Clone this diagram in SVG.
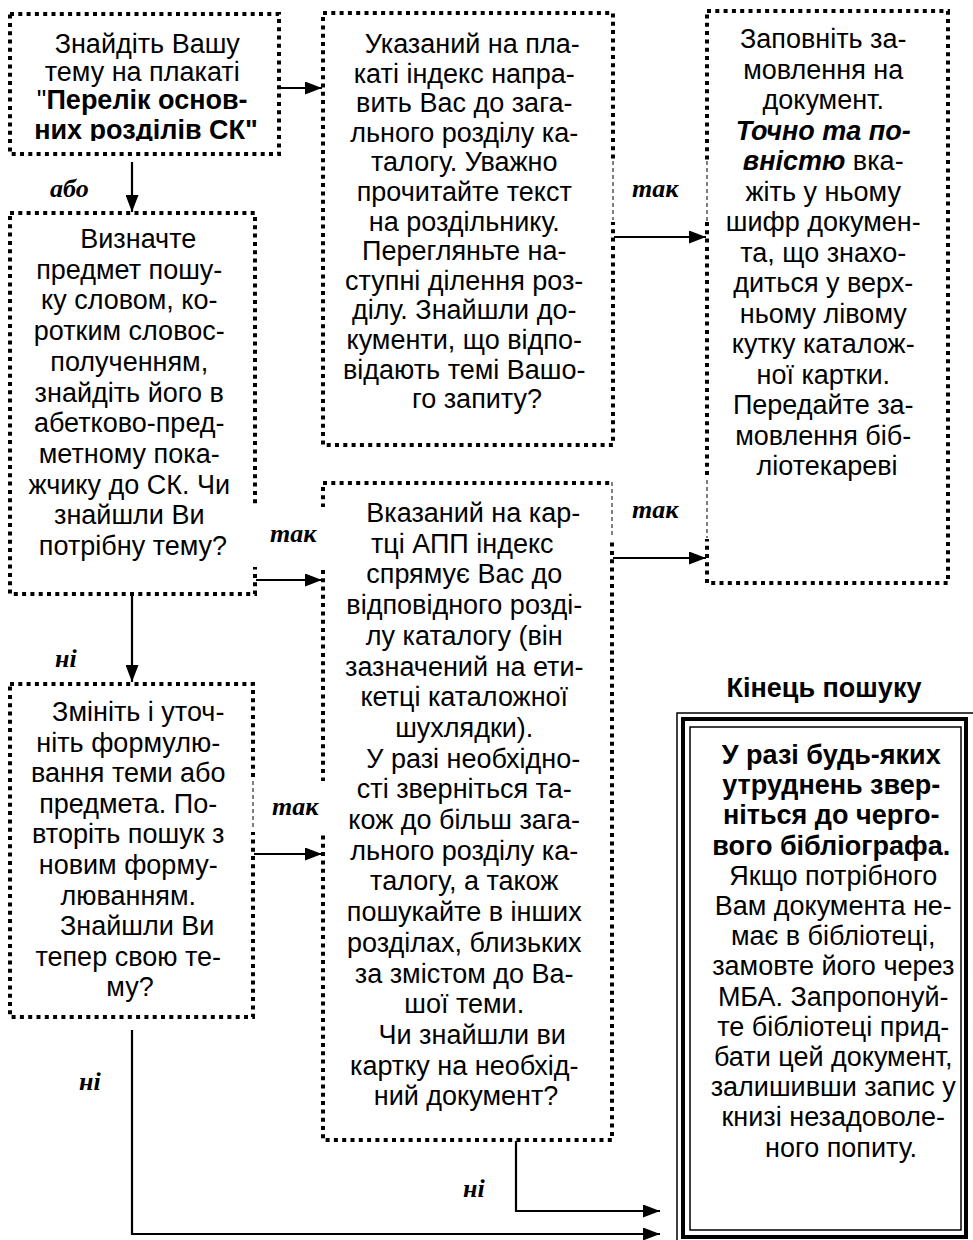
<svg xmlns="http://www.w3.org/2000/svg" width="973" height="1240" viewBox="0 0 973 1240">
<style>
.box{fill:none;stroke:#000;stroke-width:4;stroke-dasharray:4 4.3}
.t{font-family:"Liberation Sans",Arial,sans-serif;font-size:27px;fill:#000;text-anchor:middle}
.b{font-weight:bold}
.bi{font-weight:bold;font-style:italic}
.lbl{font-family:"Liberation Serif","Times New Roman",serif;font-weight:bold;font-style:italic;font-size:26px;fill:#000}
.ln{stroke:#000;stroke-width:2.2;fill:none}
.thin{stroke:#000;stroke-width:1;stroke-dasharray:4 3;fill:none}
.cover{fill:#fff;stroke:none}
</style>
<defs>
<marker id="ah" markerUnits="userSpaceOnUse" markerWidth="17" markerHeight="13" refX="17" refY="6.5" orient="auto">
<path d="M0,0 L17,6.5 L0,13 z" fill="#000"/>
</marker>
<clipPath id="c1"><rect x="10" y="14" width="270" height="127"/></clipPath>
</defs>
<rect width="973" height="1240" fill="#fff"/>

<g id="box1">
<rect class="box" x="10" y="14" width="269" height="140"/>
<text class="t" font-size="28.5" clip-path="url(#c1)">
<tspan x="151" y="53">Знайдіть Вашу</tspan>
<tspan x="146" y="81">тему на плакаті</tspan>
<tspan x="146" y="109">"<tspan class="b">Перелік основ-</tspan></tspan>
<tspan x="146" y="139" class="b">них розділів СК"</tspan>
</text>
</g>

<g id="box2">
<rect class="box" x="323" y="13" width="290" height="432"/>
<text class="t">
<tspan x="476" y="53">Указаний на пла-</tspan>
<tspan x="468" y="82.6">каті індекс напра-</tspan>
<tspan x="468" y="112.2">вить Вас до зага-</tspan>
<tspan x="468" y="141.8">льного розділу ка-</tspan>
<tspan x="468" y="171.4">талогу. Уважно</tspan>
<tspan x="468" y="201">прочитайте текст</tspan>
<tspan x="468" y="230.6">на роздільнику.</tspan>
<tspan x="468" y="260.2">Перегляньте на-</tspan>
<tspan x="468" y="289.8">ступні ділення роз-</tspan>
<tspan x="468" y="319.4">ділу. Знайшли до-</tspan>
<tspan x="468" y="349">кументи, що відпо-</tspan>
<tspan x="468" y="378.6">відають темі Вашо-</tspan>
<tspan x="477" y="408.2">го запиту?</tspan>
</text>
</g>

<g id="box3">
<rect class="box" x="10" y="213" width="245" height="381"/>
<text class="t">
<tspan x="142" y="248">Визначте</tspan>
<tspan x="133" y="278.7">предмет пошу-</tspan>
<tspan x="133" y="309.4">ку словом, ко-</tspan>
<tspan x="133" y="340.1">ротким словос-</tspan>
<tspan x="133" y="370.8">полученням,</tspan>
<tspan x="133" y="401.5">знайдіть його в</tspan>
<tspan x="133" y="432.2">абетково-пред-</tspan>
<tspan x="133" y="462.9">метному пока-</tspan>
<tspan x="133" y="493.6">жчику до СК. Чи</tspan>
<tspan x="133" y="524.3">знайшли Ви</tspan>
<tspan x="133" y="555">потрібну тему?</tspan>
</text>
</g>

<g id="box4">
<rect class="box" x="323" y="483" width="289" height="657"/>
<text class="t" font-size="26.6">
<tspan x="477" y="522">Вказаний на кар-</tspan>
<tspan x="466" y="552.7">тці АПП індекс</tspan>
<tspan x="468" y="583.4">спрямує Вас до</tspan>
<tspan x="468" y="614.1">відповідного розді-</tspan>
<tspan x="468" y="644.8">лу каталогу (він</tspan>
<tspan x="468" y="675.5">зазначений на ети-</tspan>
<tspan x="468" y="706.2">кетці каталожної</tspan>
<tspan x="468" y="736.9">шухлядки).</tspan>
<tspan x="477" y="767.6">У разі необхідно-</tspan>
<tspan x="468" y="798.3">сті зверніться та-</tspan>
<tspan x="468" y="829">кож до більш зага-</tspan>
<tspan x="468" y="859.7">льного розділу ка-</tspan>
<tspan x="468" y="890.4">талогу, а також</tspan>
<tspan x="468" y="921.1">пошукайте в інших</tspan>
<tspan x="468" y="951.8">розділах, близьких</tspan>
<tspan x="468" y="982.5">за змістом до Ва-</tspan>
<tspan x="468" y="1013.2">шої теми.</tspan>
<tspan x="476" y="1043.9">Чи знайшли ви</tspan>
<tspan x="468" y="1074.6">картку на необхід-</tspan>
<tspan x="466" y="1105.3">ний документ?</tspan>
</text>
</g>

<g id="box5">
<rect class="box" x="707" y="11" width="241" height="572"/>
<text class="t" font-size="27.3">
<tspan x="827" y="48">Заповніть за-</tspan>
<tspan x="827" y="78.5">мовлення на</tspan>
<tspan x="827" y="109">документ.</tspan>
<tspan x="827" y="139.5" class="bi">Точно та по-</tspan>
<tspan x="827" y="170"><tspan class="bi">вністю</tspan> вка-</tspan>
<tspan x="827" y="200.5">жіть у ньому</tspan>
<tspan x="827" y="231">шифр докумен-</tspan>
<tspan x="827" y="261.5">та, що знахо-</tspan>
<tspan x="827" y="292">диться у верх-</tspan>
<tspan x="827" y="322.5">ньому лівому</tspan>
<tspan x="827" y="353">кутку каталож-</tspan>
<tspan x="827" y="383.5">ної картки.</tspan>
<tspan x="827" y="414">Передайте за-</tspan>
<tspan x="827" y="444.5">мовлення біб-</tspan>
<tspan x="827" y="475">ліотекареві</tspan>
</text>
</g>

<g id="box6">
<rect class="box" x="10" y="684" width="243" height="333"/>
<text class="t" font-size="26.5">
<tspan x="142" y="721">Змініть і уточ-</tspan>
<tspan x="132" y="751.6">ніть формулю-</tspan>
<tspan x="132" y="782.2">вання теми або</tspan>
<tspan x="132" y="812.8">предмета. По-</tspan>
<tspan x="132" y="843.4">вторіть пошук з</tspan>
<tspan x="132" y="874">новим форму-</tspan>
<tspan x="132" y="904.6">люванням.</tspan>
<tspan x="141" y="935.2">Знайшли Ви</tspan>
<tspan x="132" y="965.8">тепер свою те-</tspan>
<tspan x="130" y="996.4">му?</tspan>
</text>
</g>

<g id="end">
<text class="t b" x="824" y="697" font-size="28.5">Кінець пошуку</text>
<rect x="677" y="713" width="300" height="532" fill="none" stroke="#000" stroke-width="1.5"/>
<rect x="683" y="719" width="283" height="518" fill="none" stroke="#000" stroke-width="4"/>
<rect x="690" y="727" width="271" height="503" fill="none" stroke="#000" stroke-width="1.5"/>
<text class="t" font-size="25.5">
<tspan x="835" y="764" class="b" font-size="27">У разі будь-яких</tspan>
<tspan x="835" y="794.2" class="b" font-size="27">утруднень звер-</tspan>
<tspan x="835" y="824.4" class="b" font-size="27">ніться до черго-</tspan>
<tspan x="835" y="854.6" class="b" font-size="27">вого бібліографа.</tspan>
<tspan x="837" y="884.8">Якщо потрібного</tspan>
<tspan x="837" y="915">Вам документа не-</tspan>
<tspan x="837" y="945.2">має в бібліотеці,</tspan>
<tspan x="837" y="975.4">замовте його через</tspan>
<tspan x="837" y="1005.6">МБА. Запропонуй-</tspan>
<tspan x="837" y="1035.8">те бібліотеці прид-</tspan>
<tspan x="837" y="1066">бати цей документ,</tspan>
<tspan x="837" y="1096.2">залишивши запис у</tspan>
<tspan x="837" y="1126.4">книзі незадоволе-</tspan>
<tspan x="841" y="1156.6">ного попиту.</tspan>
</text>
</g>

<g id="connectors">
<rect class="cover" x="609" y="161" width="102" height="61"/>
<line class="thin" x1="613" y1="161" x2="613" y2="220"/>
<line class="thin" x1="707" y1="161" x2="707" y2="225"/>
<rect class="cover" x="610" y="478" width="101" height="61"/>
<line class="thin" x1="612" y1="482" x2="612" y2="538"/>
<line class="thin" x1="707" y1="480" x2="707" y2="538"/>
<rect class="cover" x="250" y="507" width="78" height="60"/>
<rect class="cover" x="249" y="781" width="80" height="51"/>
<line class="thin" x1="253" y1="781" x2="253" y2="830"/>

<line class="ln" x1="280" y1="88" x2="322" y2="88" marker-end="url(#ah)"/>
<line class="ln" x1="132" y1="162" x2="132" y2="212" marker-end="url(#ah)"/>
<line class="ln" x1="614" y1="237" x2="706" y2="237" marker-end="url(#ah)"/>
<line class="ln" x1="256" y1="580" x2="322" y2="580" marker-end="url(#ah)"/>
<line class="ln" x1="132" y1="595" x2="132" y2="682" marker-end="url(#ah)"/>
<line class="ln" x1="613" y1="558" x2="706" y2="558" marker-end="url(#ah)"/>
<line class="ln" x1="254" y1="854" x2="322" y2="854" marker-end="url(#ah)"/>
<path class="ln" d="M516,1141 V1211 H660" marker-end="url(#ah)"/>
<path class="ln" d="M132,1030 V1234 H660" marker-end="url(#ah)"/>

<text class="lbl" x="50" y="197">або</text>
<text class="lbl" x="632" y="197">так</text>
<text class="lbl" x="632" y="518">так</text>
<text class="lbl" x="270" y="542">так</text>
<text class="lbl" x="272" y="815">так</text>
<text class="lbl" x="55" y="667">ні</text>
<text class="lbl" x="79" y="1090">ні</text>
<text class="lbl" x="463" y="1197">ні</text>
</g>
</svg>
